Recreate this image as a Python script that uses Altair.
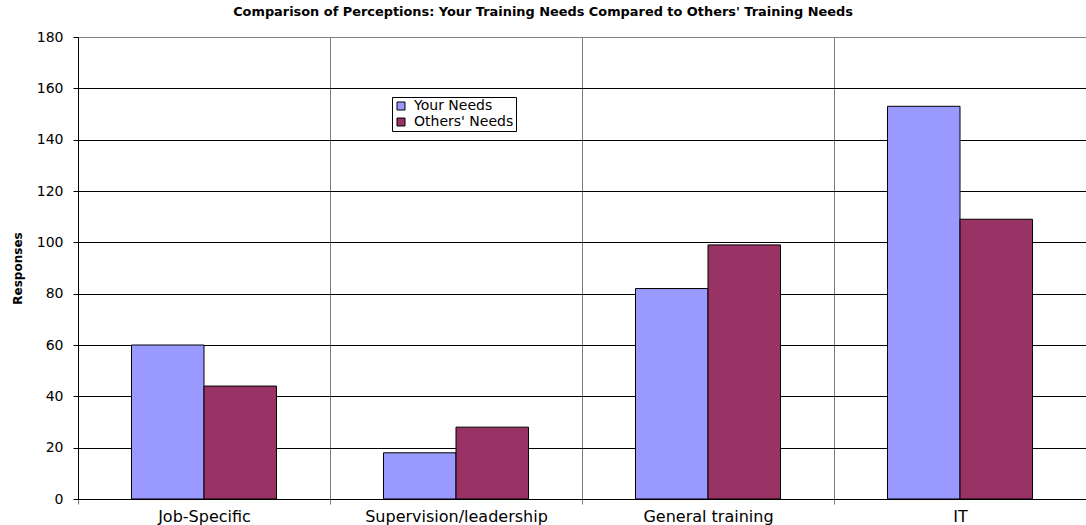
import altair as alt
import pandas as pd

# Survey responses per training category
categories = ["Job-Specific", "Supervision/leadership", "General training", "IT"]
your_needs = [60, 18, 82, 153]
others_needs = [44, 28, 99, 109]

series = ["Your Needs", "Others' Needs"]
series_colors = ["#9999FF", "#993366"]
y_ticks = [0, 20, 40, 60, 80, 100, 120, 140, 160, 180]

rows = []
for cat, mine, theirs in zip(categories, your_needs, others_needs):
    rows.append({"category": cat, "series": series[0], "responses": mine})
    rows.append({"category": cat, "series": series[1], "responses": theirs})
df = pd.DataFrame(rows)

FONT = "DejaVu Sans"

chart = (
    alt.Chart(df)
    .mark_bar(stroke="black", strokeWidth=1)
    .encode(
        x=alt.X(
            "category:N",
            sort=categories,
            title=None,
            scale=alt.Scale(paddingInner=0, paddingOuter=0),
            axis=alt.Axis(
                labelAngle=0,
                labelFont=FONT,
                labelFontSize=16,
                labelColor="black",
                labelPadding=4,
                labelLimit=400,
                tickBand="extent",
                tickSize=5,
                tickColor="#808080",
                grid=True,
                gridColor="#808080",
                gridWidth=1,
                domainColor="black",
                domainWidth=1,
            ),
        ),
        xOffset=alt.XOffset(
            "series:N",
            sort=series,
            scale=alt.Scale(paddingInner=0, paddingOuter=0.738),
        ),
        y=alt.Y(
            "responses:Q",
            scale=alt.Scale(domain=[0, 180], nice=False),
            axis=alt.Axis(
                values=y_ticks,
                title="Responses",
                titleFont=FONT,
                titleFontSize=12,
                titleFontWeight="bold",
                titleColor="black",
                titlePadding=12,
                labelFont=FONT,
                labelFontSize=14,
                labelColor="black",
                labelPadding=10,
                tickSize=5,
                tickColor="black",
                domainColor="black",
                domainWidth=1,
                grid=True,
                gridColor=alt.condition(
                    "datum.value == 180", alt.value("#808080"), alt.value("black")
                ),
                gridWidth=1,
            ),
        ),
        color=alt.Color(
            "series:N",
            sort=series,
            scale=alt.Scale(domain=series, range=series_colors),
            legend=alt.Legend(
                title=None,
                orient="none",
                legendX=314,
                legendY=60,
                direction="vertical",
                strokeColor="black",
                fillColor="white",
                padding=2,
                cornerRadius=0,
                symbolType="square",
                symbolSize=64,
                symbolStrokeColor="black",
                symbolStrokeWidth=1,
                symbolOpacity=1,
                labelFont=FONT,
                labelFontSize=14,
                labelColor="black",
                labelOffset=6,
                rowPadding=2,
            ),
        ),
    )
    .properties(
        width=1008,
        height=462,
        padding={"left": 78, "top": 37, "right": 0, "bottom": 26},
        autosize=alt.AutoSizeParams(type="none"),
        title=alt.TitleParams(
            text="Comparison of Perceptions: Your Training Needs Compared to Others' Training Needs",
            font=FONT,
            fontSize=12.9,
            fontWeight="bold",
            color="black",
            anchor="middle",
            dx=-39,
            offset=11,
        ),
    )
    .configure_view(strokeWidth=0)
    .configure(background="white")
)

chart.save("out.html", embed_options={"renderer": "svg", "actions": False})
